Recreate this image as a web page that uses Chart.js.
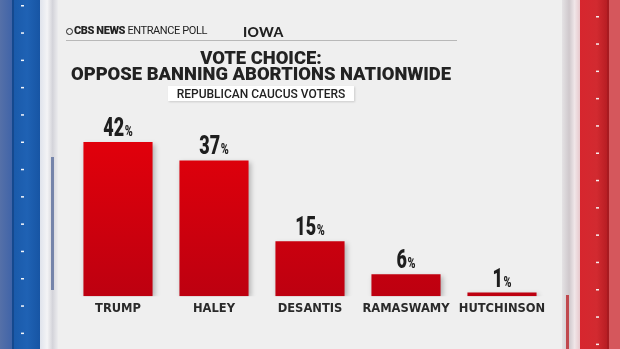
<!DOCTYPE html>
<html>
<head>
<meta charset="utf-8">
<script src="https://cdn.jsdelivr.net/npm/chart.js@4.4.1/dist/chart.umd.min.js"></script>
<style>
  html, body { margin: 0; padding: 0; background: #efefef; }
  #wrap { position: relative; width: 620px; height: 349px; overflow: hidden; }
  #chart { position: absolute; left: 0; top: 0; }
  .txt { position: absolute; white-space: nowrap; color: #222; }
  #brand { left: 66px; top: 24px; font: 11px 'Roboto', sans-serif; letter-spacing: -0.4px; }
  #brand b { font-weight: 900; }
  #brand .eye { display: inline-block; width: 7px; height: 7px; border: 1.5px solid #222; border-radius: 50%; box-sizing: border-box; vertical-align: -0.5px; margin-right: 1px; }
  #state { left: 243px; top: 23px; font: 900 14px 'Lato', sans-serif; letter-spacing: 0.3px; }
  #rule { position: absolute; left: 66px; top: 40px; width: 391px; height: 1px; background: #b8b8b8; }
  #title { left: 0; width: 522px; top: 50px; text-align: center; font: 900 18.4px/15.5px 'Roboto', sans-serif; color: #222; }
  #sub { left: 168px; top: 86px; width: 186px; height: 15px; background: #fff; box-shadow: 1px 1px 2px rgba(0,0,0,0.15); text-align: center; font: 500 12px/16px 'Roboto', sans-serif; color: #222; }
</style>
</head>
<body>
<div id="wrap">
  <canvas id="chart" width="620" height="349"></canvas>
  <div class="txt" id="brand"><span class="eye"></span><b>CBS NEWS</b> ENTRANCE POLL</div>
  <div class="txt" id="state">IOWA</div>
  <div id="rule"></div>
  <div class="txt" id="title">VOTE CHOICE:<br>OPPOSE BANNING ABORTIONS NATIONWIDE</div>
  <div class="txt" id="sub">REPUBLICAN CAUCUS VOTERS</div>
</div>
<script>
// Data
const categories = ['TRUMP', 'HALEY', 'DESANTIS', 'RAMASWAMY', 'HUTCHINSON'];
const values = [42, 37, 15, 6, 1];

// Side borders and background
const backdrop = {
    id: 'backdrop',
    beforeDraw(chart) {
        const ctx = chart.ctx;
        ctx.save();
        ctx.fillStyle = '#efefef';
        ctx.fillRect(0, 0, 620, 349);

        // left (blue) side
        let g = ctx.createLinearGradient(0, 0, 14, 0);
        g.addColorStop(0, '#5570a8');
        g.addColorStop(1, '#3d62a8');
        ctx.fillStyle = g;
        ctx.fillRect(0, 0, 13, 349);
        ctx.fillStyle = '#15498f';
        ctx.fillRect(12, 0, 2, 349);
        g = ctx.createLinearGradient(14, 0, 40, 0);
        g.addColorStop(0, '#1a5aaa');
        g.addColorStop(0.5, '#1f62b4');
        g.addColorStop(1, '#1755a4');
        ctx.fillStyle = g;
        ctx.fillRect(14, 0, 26, 349);
        g = ctx.createLinearGradient(40, 0, 58, 0);
        g.addColorStop(0, '#dfe3ec');
        g.addColorStop(0.4, '#f4f4f6');
        g.addColorStop(0.7, '#d4d4da');
        g.addColorStop(1, '#ececee');
        ctx.fillStyle = g;
        ctx.fillRect(40, 0, 18, 349);
        ctx.fillStyle = '#7584aa';
        ctx.fillRect(51, 157, 3, 133);
        ctx.fillStyle = '#f4f6fa';
        for (let y = 5; y < 349; y += 27.3) ctx.fillRect(21, y, 3, 1.5);

        // right (red) side
        g = ctx.createLinearGradient(562, 0, 580, 0);
        g.addColorStop(0, '#e4e2e4');
        g.addColorStop(0.4, '#cfc8cc');
        g.addColorStop(0.7, '#f0e6e8');
        g.addColorStop(1, '#e8c8cc');
        ctx.fillStyle = g;
        ctx.fillRect(562, 0, 18, 349);
        ctx.fillStyle = '#c0484e';
        ctx.fillRect(566, 295, 3, 54);
        g = ctx.createLinearGradient(580, 0, 608, 0);
        g.addColorStop(0, '#d7262e');
        g.addColorStop(0.6, '#d22a30');
        g.addColorStop(1, '#b51c22');
        ctx.fillStyle = g;
        ctx.fillRect(580, 0, 28, 349);
        ctx.fillStyle = '#a81a20';
        ctx.fillRect(607, 0, 2, 349);
        ctx.fillStyle = '#d5575c';
        ctx.fillRect(609, 0, 11, 349);
        ctx.fillStyle = '#f6eeee';
        for (let y = 16; y < 349; y += 27.3) ctx.fillRect(596, y, 3, 1.5);
        ctx.restore();
    }
};

// Soft shadow behind the bars
const barShadow = {
    id: 'barShadow',
    beforeDatasetsDraw(chart) {
        const ctx = chart.ctx;
        ctx.save();
        ctx.shadowColor = 'rgba(0,0,0,0.25)';
        ctx.shadowBlur = 5;
        ctx.shadowOffsetX = 2;
        ctx.shadowOffsetY = 2;
    },
    afterDatasetsDraw(chart) {
        chart.ctx.restore();
    }
};

// "42%" labels above the bars, squeezed horizontally to look condensed
const SQUEEZE = 0.72;
const valueLabels = {
    id: 'valueLabels',
    afterDatasetsDraw(chart) {
        const ctx = chart.ctx;
        const meta = chart.getDatasetMeta(0);
        const bigFont = "900 25px 'Roboto', sans-serif";
        const smallFont = "900 15px 'Roboto', sans-serif";
        ctx.save();
        ctx.fillStyle = '#1e1e1e';
        ctx.textBaseline = 'alphabetic';
        ctx.textAlign = 'left';
        meta.data.forEach((bar, i) => {
            const num = String(values[i]);
            ctx.font = bigFont;
            const wNum = ctx.measureText(num).width;
            ctx.font = smallFont;
            const wPct = ctx.measureText('%').width;
            const total = (wNum + wPct + 1) * SQUEEZE;
            ctx.save();
            ctx.translate(bar.x - total / 2, bar.y - 6);
            ctx.scale(SQUEEZE, 1);
            ctx.font = bigFont;
            ctx.fillText(num, 0, 0);
            ctx.font = smallFont;
            ctx.fillText('%', wNum + 1, 0);
            ctx.restore();
        });
        ctx.restore();
    }
};

const ctx = document.getElementById('chart').getContext('2d');
new Chart(ctx, {
    type: 'bar',
    data: {
        labels: categories,
        datasets: [{
            data: values,
            backgroundColor: (c) => {
                const area = c.chart.chartArea;
                if (!area) return '#d40010';
                const g = c.chart.ctx.createLinearGradient(0, area.top, 0, area.bottom);
                g.addColorStop(0, '#e6000a');
                g.addColorStop(1, '#bd0010');
                return g;
            },
            borderWidth: 0,
            barPercentage: 0.72,
            categoryPercentage: 1
        }]
    },
    options: {
        responsive: false,
        animation: false,
        layout: { padding: { left: 70, right: 70, top: 120, bottom: 27 } },
        plugins: {
            legend: { display: false },
            tooltip: { enabled: false }
        },
        scales: {
            x: {
                grid: { display: false, drawTicks: false },
                border: { display: false },
                ticks: {
                    autoSkip: false,
                    maxRotation: 0,
                    padding: 6,
                    color: '#2a2a2a',
                    font: { family: "'DejaVu Sans', sans-serif", weight: 'bold', size: 11.5 }
                }
            },
            y: { display: false, min: 0, max: 48 }
        }
    },
    plugins: [backdrop, barShadow, valueLabels]
});
</script>
</body>
</html>
